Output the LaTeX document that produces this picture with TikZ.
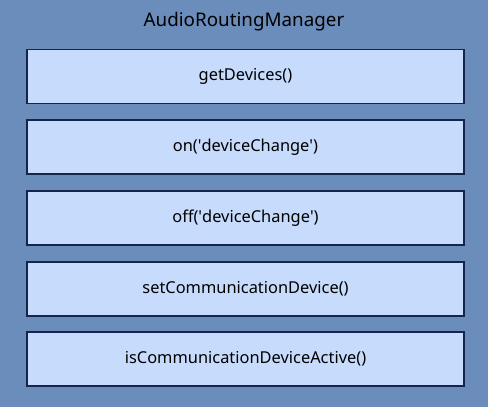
\documentclass[tikz,border=0pt]{standalone}
\usepackage{fontspec}
\setmainfont{Noto Sans}
\definecolor{bgblue}{HTML}{6A8DBB}
\definecolor{boxfill}{HTML}{C7DCFC}
\definecolor{boxline}{HTML}{14244A}
\begin{document}
\begin{tikzpicture}[x=1pt,y=-1pt,
  method/.style={draw=boxline,fill=boxfill,line width=1.2pt,minimum width=437pt,minimum height=54pt,inner sep=0pt,font=\fontsize{16.4}{18}\selectfont,text=black}]
\fill[bgblue] (0,0) rectangle (488,407);
\useasboundingbox (0,0) rectangle (488,407);
\node[font=\fontsize{18.8}{22}\selectfont,text=black] (title) at (244,22) {AudioRoutingManager};
\node[method] (m1) at (245.5,76.5) {getDevices()};
\node[method] (m2) at (245.5,147) {on(\textquotesingle deviceChange\textquotesingle)};
\node[method] (m3) at (245.5,218) {off(\textquotesingle deviceChange\textquotesingle)};
\node[method] (m4) at (245.5,289) {setCommunicationDevice()};
\node[method] (m5) at (245.5,359) {isCommunicationDeviceActive()};
\end{tikzpicture}
\end{document}
